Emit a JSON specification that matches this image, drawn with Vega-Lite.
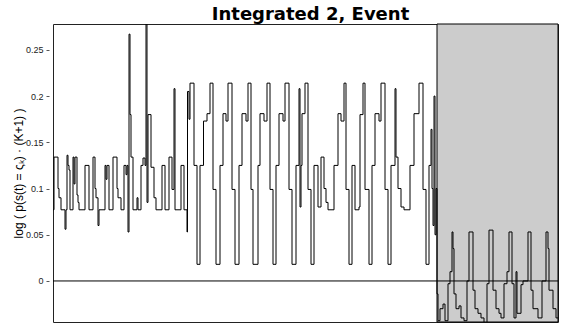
{
  "$schema": "https://vega.github.io/schema/vega-lite/v6.json",
  "autosize": "none",
  "padding": {"left": 53, "top": 24, "right": 5, "bottom": 2},
  "width": 505,
  "height": 298,
  "title": {"text": "Integrated 2, Event", "fontSize": 18, "fontWeight": "bold", "font": "DejaVu Sans", "color": "#000", "anchor": "middle", "offset": 0, "dx": 5},
  "config": {"view": {"stroke": "#222", "strokeWidth": 1}, "font": "Liberation Sans"},
  "datasets": {
    "series": [
      {"t": 0, "v": 0.077}, {"t": 1, "v": 0.134}, {"t": 5, "v": 0.1}, {"t": 6, "v": 0.09}, {"t": 8, "v": 0.077},
      {"t": 12, "v": 0.056}, {"t": 13, "v": 0.077}, {"t": 14, "v": 0.136}, {"t": 15, "v": 0.125}, {"t": 16, "v": 0.12},
      {"t": 17, "v": 0.077}, {"t": 20, "v": 0.134}, {"t": 21, "v": 0.105}, {"t": 22, "v": 0.134}, {"t": 24, "v": 0.093},
      {"t": 25, "v": 0.085}, {"t": 26, "v": 0.077}, {"t": 32, "v": 0.125}, {"t": 36, "v": 0.077}, {"t": 40, "v": 0.134},
      {"t": 42, "v": 0.1}, {"t": 43, "v": 0.09}, {"t": 45, "v": 0.06}, {"t": 46, "v": 0.077}, {"t": 52, "v": 0.125},
      {"t": 53, "v": 0.11}, {"t": 54, "v": 0.125}, {"t": 56, "v": 0.077}, {"t": 60, "v": 0.134}, {"t": 64, "v": 0.1},
      {"t": 65, "v": 0.09}, {"t": 68, "v": 0.077}, {"t": 71, "v": 0.125}, {"t": 73, "v": 0.115}, {"t": 74, "v": 0.125},
      {"t": 75, "v": 0.053}, {"t": 76, "v": 0.267}, {"t": 77, "v": 0.18}, {"t": 78, "v": 0.134}, {"t": 80, "v": 0.077},
      {"t": 84, "v": 0.09}, {"t": 85, "v": 0.077}, {"t": 88, "v": 0.125}, {"t": 90, "v": 0.133}, {"t": 92, "v": 0.125},
      {"t": 93, "v": 0.3}, {"t": 94, "v": 0.085}, {"t": 95, "v": 0.18}, {"t": 98, "v": 0.123}, {"t": 101, "v": 0.09},
      {"t": 103, "v": 0.077}, {"t": 109, "v": 0.125}, {"t": 112, "v": 0.077}, {"t": 116, "v": 0.134}, {"t": 119, "v": 0.099},
      {"t": 121, "v": 0.208}, {"t": 122, "v": 0.077}, {"t": 128, "v": 0.125}, {"t": 131, "v": 0.077}, {"t": 134, "v": 0.053},
      {"t": 134.5, "v": 0.205}, {"t": 136, "v": 0.175}, {"t": 137, "v": 0.214}, {"t": 141, "v": 0.125}, {"t": 144, "v": 0.018},
      {"t": 147, "v": 0.125}, {"t": 150.5, "v": 0.173}, {"t": 154, "v": 0.181}, {"t": 157, "v": 0.214}, {"t": 160, "v": 0.099},
      {"t": 163, "v": 0.018}, {"t": 167, "v": 0.125}, {"t": 170, "v": 0.181}, {"t": 173, "v": 0.173}, {"t": 175, "v": 0.214},
      {"t": 179, "v": 0.099}, {"t": 182, "v": 0.018}, {"t": 186, "v": 0.125}, {"t": 189, "v": 0.181}, {"t": 193, "v": 0.173},
      {"t": 195, "v": 0.214}, {"t": 198, "v": 0.099}, {"t": 200, "v": 0.018}, {"t": 205, "v": 0.125}, {"t": 207, "v": 0.181},
      {"t": 211, "v": 0.173}, {"t": 214, "v": 0.214}, {"t": 217, "v": 0.099}, {"t": 220, "v": 0.018}, {"t": 223, "v": 0.125},
      {"t": 226, "v": 0.181}, {"t": 230, "v": 0.173}, {"t": 232, "v": 0.214}, {"t": 236, "v": 0.099}, {"t": 239, "v": 0.018},
      {"t": 243, "v": 0.125}, {"t": 246, "v": 0.208}, {"t": 247, "v": 0.08}, {"t": 248, "v": 0.125}, {"t": 249, "v": 0.181},
      {"t": 252, "v": 0.214}, {"t": 255, "v": 0.099}, {"t": 258, "v": 0.018}, {"t": 261, "v": 0.125}, {"t": 265, "v": 0.08},
      {"t": 268, "v": 0.134}, {"t": 271, "v": 0.1}, {"t": 273, "v": 0.085}, {"t": 275, "v": 0.077}, {"t": 281, "v": 0.125},
      {"t": 285, "v": 0.181}, {"t": 288, "v": 0.173}, {"t": 291, "v": 0.214}, {"t": 293, "v": 0.099}, {"t": 296, "v": 0.018},
      {"t": 299, "v": 0.125}, {"t": 302, "v": 0.077}, {"t": 306, "v": 0.08}, {"t": 307, "v": 0.18}, {"t": 310, "v": 0.214},
      {"t": 312, "v": 0.099}, {"t": 316, "v": 0.018}, {"t": 319, "v": 0.125}, {"t": 322, "v": 0.181}, {"t": 326, "v": 0.173},
      {"t": 328, "v": 0.214}, {"t": 332, "v": 0.099}, {"t": 335, "v": 0.018}, {"t": 338, "v": 0.125}, {"t": 342, "v": 0.208},
      {"t": 343, "v": 0.134}, {"t": 345, "v": 0.1}, {"t": 348, "v": 0.08}, {"t": 351, "v": 0.077}, {"t": 357, "v": 0.125},
      {"t": 361, "v": 0.181}, {"t": 366, "v": 0.214}, {"t": 370, "v": 0.099}, {"t": 373, "v": 0.018}, {"t": 376, "v": 0.125},
      {"t": 378, "v": 0.164}, {"t": 379, "v": 0.1}, {"t": 380, "v": 0.06}, {"t": 381, "v": 0.2}, {"t": 382, "v": 0.05},
      {"t": 383, "v": 0.1}, {"t": 384, "v": -0.014}, {"t": 385, "v": -0.043}, {"t": 387, "v": -0.03}, {"t": 390, "v": -0.025},
      {"t": 392, "v": -0.043}, {"t": 395, "v": -0.003}, {"t": 397, "v": 0.01}, {"t": 399, "v": 0.053}, {"t": 400, "v": 0.035},
      {"t": 401, "v": -0.014}, {"t": 403, "v": -0.03}, {"t": 406, "v": -0.027}, {"t": 408, "v": -0.04}, {"t": 411, "v": -0.043},
      {"t": 414, "v": 0.0}, {"t": 416, "v": 0.053}, {"t": 420, "v": -0.01}, {"t": 422, "v": -0.03}, {"t": 425, "v": -0.035},
      {"t": 428, "v": -0.04}, {"t": 431, "v": -0.045}, {"t": 434, "v": -0.003}, {"t": 436, "v": 0.055}, {"t": 440, "v": -0.01},
      {"t": 443, "v": -0.03}, {"t": 446, "v": -0.035}, {"t": 448, "v": -0.04}, {"t": 451, "v": -0.003}, {"t": 454, "v": 0.01},
      {"t": 456, "v": 0.053}, {"t": 459, "v": -0.003}, {"t": 461, "v": -0.04}, {"t": 463, "v": 0.01}, {"t": 464, "v": -0.035},
      {"t": 468, "v": -0.004}, {"t": 470, "v": 0.0}, {"t": 475, "v": 0.053}, {"t": 478, "v": -0.01}, {"t": 480, "v": -0.03},
      {"t": 485, "v": -0.04}, {"t": 489, "v": 0.0}, {"t": 493, "v": 0.053}, {"t": 495, "v": 0.035}, {"t": 496, "v": -0.01},
      {"t": 500, "v": -0.03}, {"t": 503, "v": -0.04}, {"t": 505, "v": -0.04}
    ],
    "region": [{"start": 384, "end": 505}],
    "zero": [{"y": 0}]
  },
  "layer": [
    {
      "data": {"name": "region"},
      "mark": {"type": "rect", "fill": "#cccccc", "stroke": "#000", "strokeWidth": 1},
      "encoding": {
        "x": {"field": "start", "type": "quantitative", "scale": {"domain": [0, 505], "nice": false, "zero": false}, "axis": null},
        "x2": {"field": "end"}
      }
    },
    {
      "data": {"name": "zero"},
      "mark": {"type": "rule", "color": "#000", "strokeWidth": 1},
      "encoding": {
        "y": {"field": "y", "type": "quantitative"}
      }
    },
    {
      "data": {"name": "series"},
      "mark": {"type": "line", "interpolate": "step-after", "color": "#000", "strokeWidth": 1, "clip": true},
      "encoding": {
        "x": {"field": "t", "type": "quantitative", "scale": {"domain": [0, 505], "nice": false, "zero": false}, "axis": null},
        "y": {
          "field": "v", "type": "quantitative",
          "scale": {"domain": [-0.0444, 0.278], "nice": false, "zero": false},
          "axis": {
            "values": [0, 0.05, 0.1, 0.15, 0.2, 0.25], "format": "~g", "grid": false, "domain": false,
            "offset": 4, "tickSize": 3, "tickColor": "#555", "labelPadding": 3, "labelFontSize": 9, "labelColor": "#222", "labelFont": "Liberation Sans",
            "title": "log ( p(s(t) = ςₖ) · (K+1) )", "titleFontSize": 12, "titleFontWeight": "normal", "titleFont": "Liberation Sans", "titleColor": "#000",
            "titleX": -31, "titleY": 149, "titleAngle": -90, "titleAlign": "center", "titleBaseline": "middle"
          }
        }
      }
    }
  ]
}
